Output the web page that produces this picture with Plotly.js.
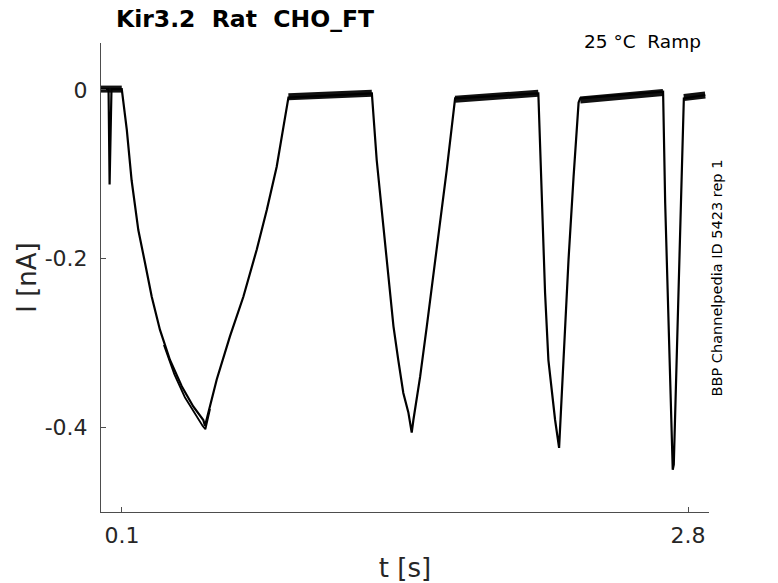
<!DOCTYPE html>
<html>
<head>
<meta charset="utf-8">
<script src="https://cdn.plot.ly/plotly-3.0.1.min.js"></script>
<style>
  html, body { margin: 0; padding: 0; background: #ffffff; }
  #chart { width: 778px; height: 583px; }
</style>
</head>
<body>
<div id="chart"></div>
<script>
// current trace (t in s, I in nA)
var timeS = [0, 0.036, 0.041, 0.046, 0.050, 0.099,
  0.123, 0.146, 0.178, 0.210, 0.242, 0.281, 0.329, 0.385, 0.440, 0.488, 0.496,
  0.552, 0.615, 0.679, 0.743, 0.791, 0.838, 0.870, 0.894,
  1.292, 1.315, 1.347, 1.371, 1.395, 1.418, 1.442, 1.466, 1.482,
  1.490, 1.522, 1.554, 1.585, 1.617, 1.649, 1.673, 1.689,
  2.086, 2.103, 2.118, 2.134, 2.150, 2.166, 2.185,
  2.190, 2.206, 2.230, 2.254, 2.278, 2.286,
  2.681, 2.691, 2.706, 2.718, 2.727,
  2.732, 2.747, 2.764, 2.780, 2.882];
var currentNA = [0.001, 0.001, -0.112, -0.05, 0.001, 0.001,
  -0.047, -0.107, -0.166, -0.205, -0.245, -0.284, -0.320, -0.351, -0.375, -0.391, -0.398,
  -0.343, -0.292, -0.245, -0.189, -0.142, -0.091, -0.044, -0.009,
  -0.004, -0.083, -0.162, -0.221, -0.280, -0.320, -0.359, -0.382, -0.406,
  -0.391, -0.340, -0.280, -0.221, -0.154, -0.095, -0.044, -0.010,
  -0.004, -0.122, -0.240, -0.320, -0.359, -0.391, -0.424,
  -0.399, -0.320, -0.201, -0.103, -0.015, -0.010,
  -0.002, -0.134, -0.272, -0.370, -0.450,
  -0.444, -0.292, -0.154, -0.010, -0.006];

// a second sweep that runs just below the first near the bottom of the first ramp
var sweep2T = [0.300, 0.350, 0.400, 0.450, 0.485, 0.498, 0.520];
var sweep2I = [-0.302, -0.337, -0.364, -0.385, -0.398, -0.402, -0.378];

// noisy holding segments (drawn as a thick band)
var bandT = [0, 0.099, null, 0.894, 1.094, 1.292, null, 1.689, 1.890, 2.086, null, 2.286, 2.480, 2.681, null, 2.780, 2.882];
var bandI = [0.001, 0.001, null, -0.008, -0.006, -0.004, null, -0.011, -0.007, -0.004, null, -0.012, -0.007, -0.003, null, -0.009, -0.006];

var xTickVals = [0.1, 2.8];
var xTickText = ['0.1', '2.8'];
var yTickVals = [0, -0.2, -0.4];
var yTickText = ['0', '-0.2', '-0.4'];

var trace = {
  x: timeS,
  y: currentNA,
  mode: 'lines',
  line: { color: '#000000', width: 2.2 },
  hoverinfo: 'skip'
};

var sweep2 = {
  x: sweep2T,
  y: sweep2I,
  mode: 'lines',
  line: { color: '#000000', width: 1.8 },
  hoverinfo: 'skip'
};

var band = {
  x: bandT,
  y: bandI,
  mode: 'lines',
  connectgaps: false,
  line: { color: '#111111', width: 7 },
  hoverinfo: 'skip'
};

var tickFont = { family: 'DejaVu Sans', size: 22, color: '#262626' };
var axisTitleFont = { family: 'DejaVu Sans', size: 26, color: '#262626' };

var layout = {
  width: 778,
  height: 583,
  margin: { l: 101, r: 69, t: 43, b: 71 },
  paper_bgcolor: '#ffffff',
  plot_bgcolor: '#ffffff',
  showlegend: false,
  font: { family: 'DejaVu Sans', color: '#262626' },
  title: {
    text: '<b>Kir3.2\u00a0 Rat\u00a0 CHO_FT</b>',
    font: { family: 'DejaVu Sans', size: 23.5, color: '#000000' },
    xref: 'container', x: 0.149, xanchor: 'left',
    yref: 'container', y: 0.967, yanchor: 'middle'
  },
  xaxis: {
    range: [0, 2.9],
    showgrid: false,
    zeroline: false,
    showline: true,
    linecolor: '#4d4d4d',
    linewidth: 1,
    ticks: 'inside',
    ticklen: 5,
    tickcolor: '#4d4d4d',
    tickvals: xTickVals,
    ticktext: xTickText,
    tickfont: tickFont,
    ticklabelstandoff: 4,
    title: { text: 't [s]', font: axisTitleFont, standoff: 12 }
  },
  yaxis: {
    range: [-0.5, 0.0556],
    showgrid: false,
    zeroline: false,
    showline: true,
    linecolor: '#4d4d4d',
    linewidth: 1,
    ticks: 'inside',
    ticklen: 5,
    tickcolor: '#4d4d4d',
    tickvals: yTickVals,
    ticktext: yTickText,
    tickfont: tickFont,
    ticklabelstandoff: 8,
    title: { text: 'I [nA]', font: axisTitleFont, standoff: 0 }
  },
  annotations: [
    {
      text: '25 \u00b0C\u00a0 Ramp',
      xref: 'paper', yref: 'paper',
      x: 0.99, y: 1.004, xanchor: 'right', yanchor: 'middle',
      showarrow: false,
      font: { family: 'DejaVu Sans', size: 18.5, color: '#000000' }
    },
    {
      text: 'BBP Channelpedia ID 5423 rep 1',
      xref: 'paper', yref: 'paper',
      x: 1.013, y: 0.5, xanchor: 'center', yanchor: 'middle',
      textangle: -90,
      showarrow: false,
      font: { family: 'DejaVu Sans', size: 14.5, color: '#000000' }
    }
  ]
};

Plotly.newPlot('chart', [band, sweep2, trace], layout, { displayModeBar: false, staticPlot: true });
</script>
</body>
</html>
